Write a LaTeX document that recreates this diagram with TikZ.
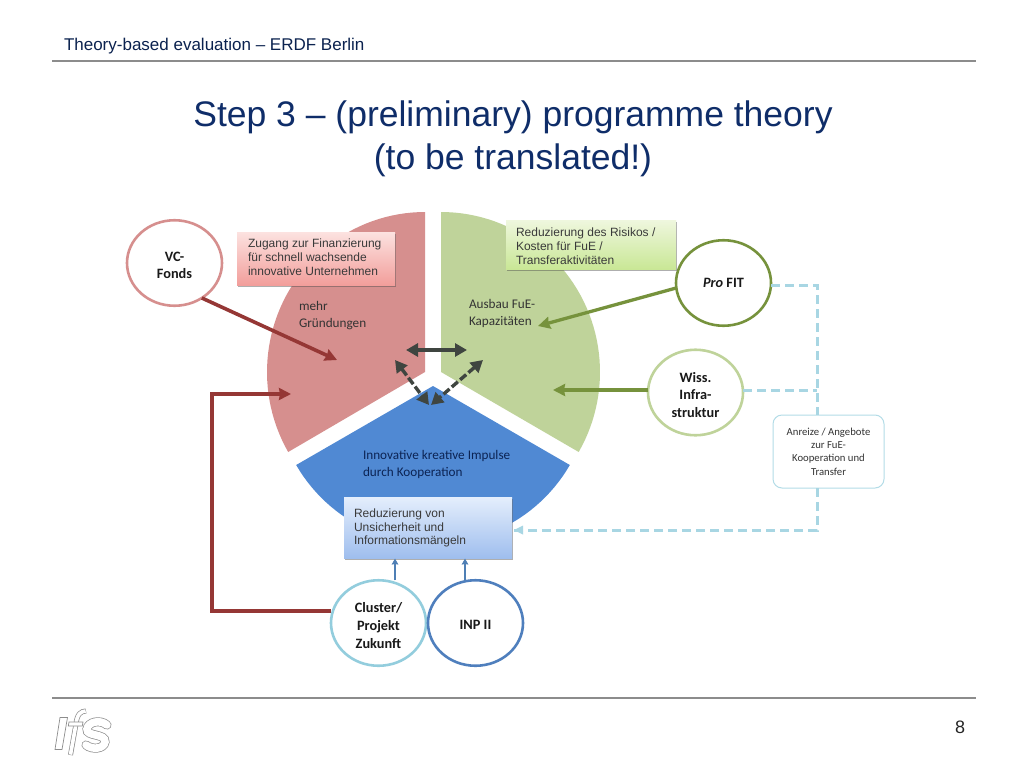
\documentclass[tikz,border=0pt]{standalone}
\usepackage{fontspec}
\setmainfont{Liberation Sans}
\newfontfamily\carl{Carlito}
\usetikzlibrary{arrows.meta,shapes.geometric,shadows,calc}
\newcommand\lowerby[1]{\rule{0pt}{#1pt}}
\definecolor{titleblue}{HTML}{0F2D69}
\definecolor{rulegray}{HTML}{8C8C8C}
\definecolor{secred}{HTML}{D68F8E}
\definecolor{secgreen}{HTML}{BFD39A}
\definecolor{secblue}{HTML}{5089D3}
\definecolor{darkred}{HTML}{953735}
\definecolor{darkgreen}{HTML}{76923C}
\definecolor{lightcyan}{HTML}{A8D6E3}
\definecolor{clustercyan}{HTML}{93CDDD}
\definecolor{inpblue}{HTML}{4F7FBD}
\definecolor{arrowblue}{HTML}{4F7FB5}
\definecolor{darkarrow}{HTML}{3F4540}
\definecolor{boxtext}{HTML}{3A3A3A}
\definecolor{redtop}{HTML}{FCE2E0}
\definecolor{redbot}{HTML}{F29E9B}
\definecolor{greentop}{HTML}{EFF7DE}
\definecolor{greenbot}{HTML}{C9E796}
\definecolor{bluetop}{HTML}{E4EEFC}
\definecolor{bluebot}{HTML}{9FBEEE}
\tikzset{
  x=1pt,y=-1pt,
  every node/.style={inner sep=0pt,outer sep=0pt},
  actor/.style={ellipse,draw,fill=white,line width=2.6pt,minimum width=95pt,minimum height=85.5pt,align=center,font=\carl\bfseries\fontsize{14.3}{17.6}\selectfont,text=black!90},
  tbox/.style={rectangle,anchor=north west,inner sep=0pt,drop shadow={shadow xshift=0.8pt,shadow yshift=-1.5pt,opacity=.45,fill=black!70}},
  boxlabel/.style={anchor=west,align=left,text=boxtext,font=\fontsize{12}{13.8}\selectfont},
  sectext/.style={anchor=west,align=left,font=\carl\fontsize{13.2}{17}\selectfont,text=black!80},
  redarrow/.style={draw=darkred,line width=3.6pt,-{Stealth[length=12pt,width=12pt,inset=1pt]}},
  greenarrow/.style={draw=darkgreen,line width=3.3pt,-{Stealth[length=12pt,width=12pt,inset=1pt]}},
  bluearrow/.style={draw=arrowblue,line width=2.4pt,-{Stealth[length=6pt,width=6.5pt,inset=0.5pt]}},
  darkboth/.style={draw=darkarrow,line width=3.4pt,{Stealth[length=12pt,width=13pt,inset=0pt]}-{Stealth[length=12pt,width=13pt,inset=0pt]}},
  feedback/.style={draw=lightcyan,line width=3pt,dash pattern=on 9pt off 5pt},
  rulel/.style={draw=rulegray,line width=2.4pt},
  logoline/.style={draw=black!45,line width=0.7pt,fill=white},
}
\begin{document}
\begin{tikzpicture}
\useasboundingbox (0,0) rectangle (1024,768);
\fill[white] (0,0) rectangle (1024,768);
% header
\node[anchor=west,font=\fontsize{17}{19}\selectfont,text=titleblue!75!black] (head) at (64,46) {Theory-based evaluation – ERDF Berlin};
\coordinate (r1a) at (52,61); \coordinate (r1b) at (976,61);
\draw[rulel] (r1a) -- (r1b);
\node[align=center,font=\fontsize{35.5}{43}\selectfont,text=titleblue] (title) at (513,138.5) {Step 3 – (preliminary) programme theory\\(to be translated!)};
% sectors
\fill[secred] (425,372) -- plot[domain=150:270,samples=50] ({425+158*cos(\x)},{372+160*sin(\x)}) -- cycle;
\fill[secgreen] (441,372) -- plot[domain=-90:30,samples=50] ({441+159*cos(\x)},{372+160*sin(\x)}) -- cycle;
\fill[secblue] (433,386) -- plot[domain=30:150,samples=50] ({433+158*cos(\x)},{386+158*sin(\x)}) -- cycle;
% sector texts
\node[sectext] (t1) at (299,316) {mehr\\Gründungen};
\node[sectext] (t2) at (469,313) {Ausbau FuE-\\Kapazitäten};
\node[sectext,text=titleblue!80!black] (t3) at (363,464.5) {Innovative kreative Impulse\\durch Kooperation};
% boxes
\node[tbox,top color=redtop,bottom color=redbot,minimum width=158pt,minimum height=53pt] (bred) at (237,232) {};
\node[boxlabel] (bredt) at (248,257.5) {Zugang zur Finanzierung\\für schnell wachsende\\innovative Unternehmen};
\node[tbox,top color=greentop,bottom color=greenbot,minimum width=170pt,minimum height=49pt] (bgreen) at (506,220) {};
\node[boxlabel] (bgreent) at (516,246) {Reduzierung des Risikos /\\Kosten für FuE /\\Transferaktivitäten};
\node[tbox,top color=bluetop,bottom color=bluebot,minimum width=168pt,minimum height=61pt] (bblue) at (344,497) {};
\node[boxlabel] (bbluet) at (354,528) {Reduzierung von\\Unsicherheit und\\Informationsmängeln};
% actors
\node[actor,draw=secred] (vc) at (174.5,263) {\lowerby{14}VC-\\Fonds};
\node[actor,draw=darkgreen] (pro) at (723.5,283) {\textit{Pro} FIT};
\node[actor,draw=secgreen] (wiss) at (695.5,392.5) {\lowerby{15}Wiss.\\Infra-\\struktur};
\node[actor,draw=clustercyan] (cluster) at (378.5,623) {\lowerby{15}Cluster/\\Projekt\\Zukunft};
\node[actor,draw=inpblue] (inp) at (475.5,623) {\lowerby{13}INP II};
\node[draw=clustercyan!70!white,fill=white,line width=1pt,rounded corners=9pt,minimum width=111pt,minimum height=73pt,align=center,font=\carl\fontsize{10.7}{13.4}\selectfont,text=black!80] (anreiz) at (828.5,451.5) {Anreize / Angebote\\zur FuE-\\Kooperation und\\Transfer};
% free ends
\coordinate (vcEnd) at (337,360);
\coordinate (proEnd) at (538,326);
\coordinate (wissEnd) at (553,390);
\coordinate (clEnd) at (291,394);
\coordinate (c1) at (212,611);
\coordinate (c2) at (212,394);
\coordinate (dhL) at (406,350);
\coordinate (dhR) at (467,350);
\coordinate (dlA) at (395,360);
\coordinate (dlB) at (429,405);
\coordinate (drA) at (483,360);
\coordinate (drB) at (431,405);
\coordinate (fb1) at (817,285);
\coordinate (fb2) at (817,390);
\coordinate (fb3) at (817,530);
\coordinate (bu1) at (395,558.5);
\coordinate (bu2) at (465,558.5);
% connectors
\draw[redarrow] (vc.-52) -- (vcEnd);
\draw[greenarrow] (pro.186) -- (proEnd);
\draw[greenarrow] (wiss.west |- wissEnd) -- (wissEnd);
\draw[redarrow,line join=miter] (cluster.west |- c1) -- (c1) -- (c2) -- (clEnd);
\draw[bluearrow] (bu1 |- cluster.north) -- (bu1);
\draw[bluearrow] (bu2 |- inp.north) -- (bu2);
\draw[darkboth] (dhL) -- (dhR);
\draw[darkboth,dash pattern=on 8pt off 3pt] (dlA) -- (dlB);
\draw[darkboth,dash pattern=on 8pt off 3pt] (drA) -- (drB);
\draw[feedback] (pro.east |- fb1) -- (fb1) -- (anreiz.north -| fb1);
\draw[feedback] (wiss.east |- fb2) -- (fb2);
\draw[feedback] (anreiz.south -| fb1) -- (fb3) -- (bblue.east |- fb3);
\fill[lightcyan] (514,530) -- (523,525.5) -- (523,534.5) -- cycle;
% page number and lower rule
\coordinate (r2a) at (52,698); \coordinate (r2b) at (976,698);
\draw[rulel] (r2a) -- (r2b);
\node[font=\fontsize{18}{20}\selectfont,text=black!85] (page) at (960,727) {8};
% logo
\draw[logoline] (60,717.5) -- (67.5,717.5) -- (62,749.5) -- (55,749.5) -- cycle;
\draw[draw=black!45,line width=5pt,line cap=butt] (70.5,755) -- (76,724) .. controls (77,714) and (81,711) .. (86,711);
\draw[draw=white,line width=3.6pt,line cap=butt] (70.5,754.6) -- (76,724) .. controls (77,714) and (81,711.2) .. (85.6,711);
\draw[draw=black!45,line width=0.7pt,fill=white] (69,722) -- (83,722) -- (82.3,726) -- (68.3,726) -- cycle;
\draw[draw=black!45,line width=9pt,line cap=round] (107,725) .. controls (100,719) and (88,722) .. (87,729) .. controls (86,737) and (106,733) .. (105,742) .. controls (104,749) and (92,750) .. (86,745);
\draw[draw=white,line width=7.6pt,line cap=round] (107,725) .. controls (100,719) and (88,722) .. (87,729) .. controls (86,737) and (106,733) .. (105,742) .. controls (104,749) and (92,750) .. (86,745);
\end{tikzpicture}
\end{document}
